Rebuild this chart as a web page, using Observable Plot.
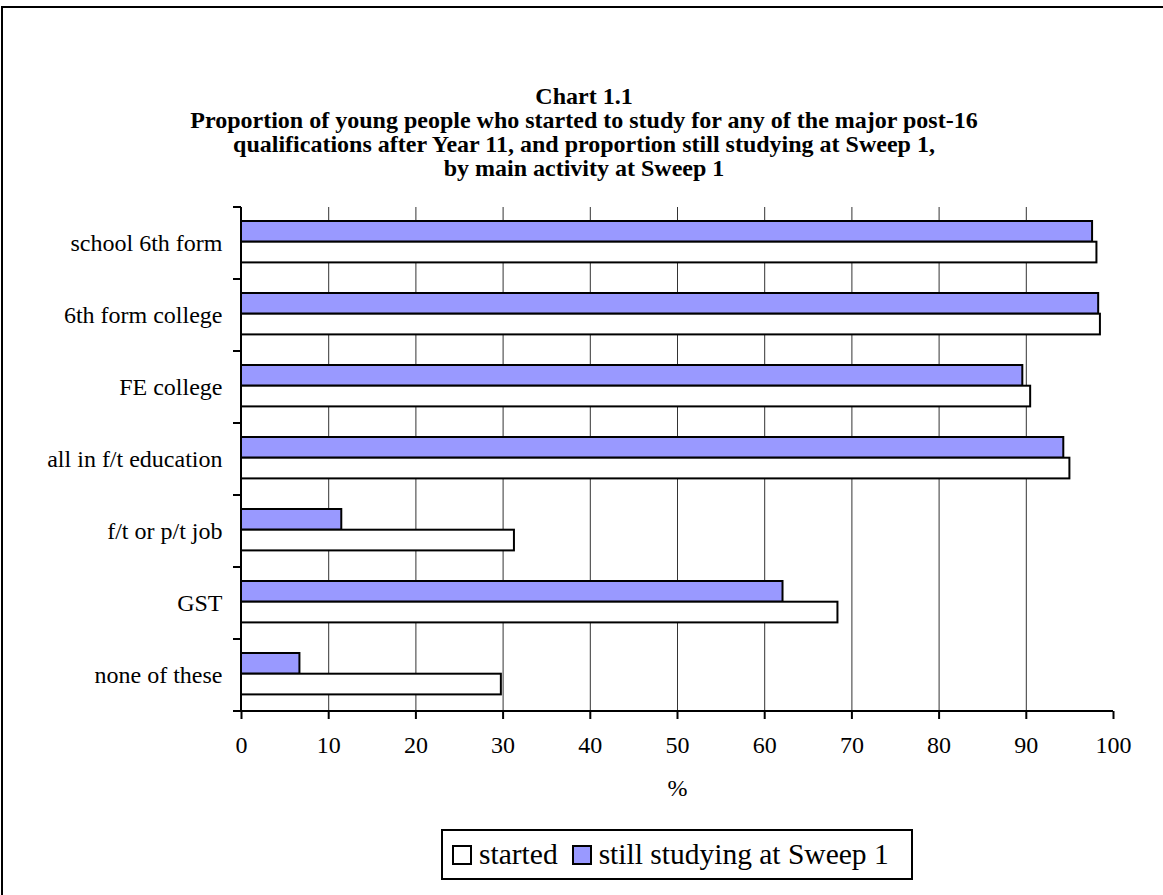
<!DOCTYPE html>
<html>
<head>
<meta charset="utf-8">
<script src="https://cdn.jsdelivr.net/npm/d3@7"></script>
<script src="https://cdn.jsdelivr.net/npm/@observablehq/plot@0.6"></script>
<style>
  html, body { margin: 0; padding: 0; background: #fff; overflow: hidden; }
  body { width: 1163px; height: 895px; position: relative; font-family: "Liberation Serif", "Times New Roman", serif; color: #000; }
  #border { position: absolute; left: 1px; top: 6px; width: 1200px; height: 1000px; border: 2px solid #000; box-sizing: border-box; }
  #title { position: absolute; left: 0; top: 84px; width: 1168px; text-align: center; font-weight: bold; font-size: 24px; line-height: 24px; }
  #chart { position: absolute; left: 0; top: 190px; }
  #legend { position: absolute; left: 441px; top: 829px; width: 472px; height: 51px; box-sizing: border-box; border: 2px solid #000; background: #fff;
            display: flex; align-items: center; padding-left: 9px; font-size: 29.5px; white-space: nowrap; }
  .sw { display: inline-block; width: 20px; height: 20px; box-sizing: border-box; border: 2px solid #000; margin-right: 7px; }
  .item { display: flex; align-items: center; margin-right: 14px; }
</style>
</head>
<body>
<div id="border"></div>
<div id="title">Chart 1.1<br>Proportion of young people who started to study for any of the major post-16<br>qualifications after Year 11, and proportion still studying at Sweep 1,<br>by main activity at Sweep 1</div>
<div id="chart"></div>
<div id="legend"></div>
<script>
// Main activity at Sweep 1 (top to bottom)
const categories = [
  "school 6th form",
  "6th form college",
  "FE college",
  "all in f/t education",
  "f/t or p/t job",
  "GST",
  "none of these"
];
// Percentage who started a major post-16 qualification
const started = [98.1, 98.5, 90.5, 95.0, 31.3, 68.4, 29.8];
// Percentage still studying at Sweep 1
const stillStudying = [97.6, 98.3, 89.6, 94.3, 11.5, 62.1, 6.7];
const seriesNames = ["started", "still studying at Sweep 1"];
const seriesColors = ["#FFFFFF", "#9999FF"];
const xTicks = [0, 10, 20, 30, 40, 50, 60, 70, 80, 90, 100];

const serif = '"Liberation Serif", "Times New Roman", serif';

const rows = categories.flatMap((c, i) => [
  {category: c, series: seriesNames[0], value: started[i]},
  {category: c, series: seriesNames[1], value: stillStudying[i]}
]);

// Layout of the SVG
const width = 1163, height = 620;
const margin = {top: 17, right: 50, bottom: 99, left: 241};
const bandPx = (height - margin.top - margin.bottom) / categories.length;
const barPx = 20.7;      // thickness of each bar
const gapTop = 14;       // space above the first bar of each group

// Axis lines and the tick marks between category bands
function axisFrame(index, {x, y}) {
  const bw = typeof y.bandwidth === "function" ? y.bandwidth() : y.bandwidth;
  const x0 = x(0), x1 = x(100);
  const bounds = categories.map(c => y(c)).concat([y(categories[categories.length - 1]) + bw]);
  const g = d3.create("svg:g").attr("stroke", "#000").attr("stroke-width", 2).attr("fill", "none");
  g.append("line").attr("x1", x0).attr("x2", x0).attr("y1", bounds[0]).attr("y2", bounds[bounds.length - 1]);
  g.append("line").attr("x1", x0).attr("x2", x1).attr("y1", bounds[bounds.length - 1]).attr("y2", bounds[bounds.length - 1]);
  g.selectAll("line.tk").data(bounds).join("line").attr("class", "tk")
    .attr("x1", x0 - 8).attr("x2", x0).attr("y1", d => d).attr("y2", d => d);
  return g.node();
}

const chart = Plot.plot({
  width, height,
  marginTop: margin.top, marginRight: margin.right, marginBottom: margin.bottom, marginLeft: margin.left,
  style: {fontFamily: serif, fontSize: "24px", background: "transparent", color: "#000", overflow: "visible"},
  x: {domain: [0, 100]},
  y: {domain: categories, padding: 0},
  marks: [
    Plot.gridX({ticks: xTicks.filter(t => t > 0 && t < 100), stroke: "#333", strokeOpacity: 1, strokeWidth: 1}),
    Plot.barX(rows.filter(d => d.series === seriesNames[1]), {
      x: "value", y: "category", fill: seriesColors[1], stroke: "#000", strokeWidth: 2,
      insetTop: gapTop, insetBottom: bandPx - gapTop - barPx
    }),
    Plot.barX(rows.filter(d => d.series === seriesNames[0]), {
      x: "value", y: "category", fill: seriesColors[0], stroke: "#000", strokeWidth: 2,
      insetTop: gapTop + barPx, insetBottom: bandPx - gapTop - 2 * barPx
    }),
    Plot.axisY({tickSize: 0, tickPadding: 19, fontSize: 24, label: null}),
    Plot.axisX({ticks: xTicks, tickSize: 8, tickPadding: 16, strokeWidth: 2, fontSize: 24,
                label: "%", labelAnchor: "center", labelArrow: "none", labelOffset: 84}),
    axisFrame
  ]
});
document.getElementById("chart").appendChild(chart);

// Legend
const legend = d3.select("#legend");
seriesNames.forEach((name, i) => {
  const item = legend.append("div").attr("class", "item");
  item.append("span").attr("class", "sw").style("background", seriesColors[i]);
  item.append("span").text(name);
});
</script>
</body>
</html>
